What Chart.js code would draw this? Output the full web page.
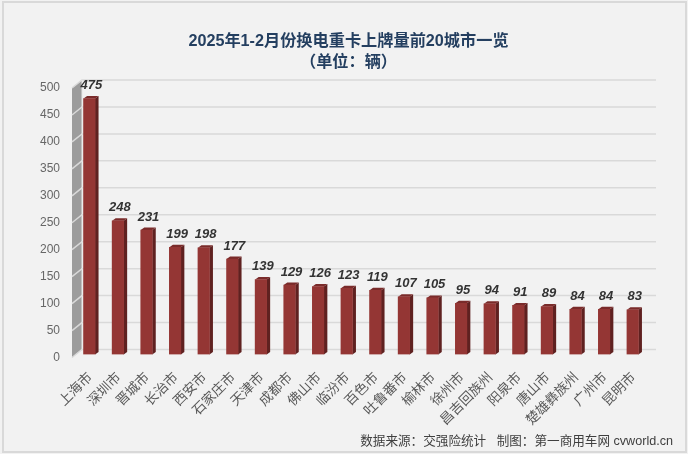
<!DOCTYPE html>
<html>
<head>
<meta charset="utf-8">
<style>
  html, body { margin: 0; padding: 0; background: #fff; }
  canvas { display: block; }
</style>
<script src="https://cdn.jsdelivr.net/npm/chart.js@4/dist/chart.umd.min.js"></script>
</head>
<body>
<canvas id="chart" width="688" height="454"></canvas>
<script>
// DATA
const cities = ["上海市", "深圳市", "晋城市", "长治市", "西安市", "石家庄市", "天津市", "成都市", "佛山市", "临汾市",
  "百色市", "吐鲁番市", "榆林市", "徐州市", "昌吉回族州", "阳泉市", "唐山市", "楚雄彝族州", "广州市", "昆明市"];
const sales = [475, 248, 231, 199, 198, 177, 139, 129, 126, 123, 119, 107, 105, 95, 94, 91, 89, 84, 84, 83];
const titleLines = ["2025年1-2月份换电重卡上牌量前20城市一览", "（单位：辆）"];
const sourceNote = "数据来源：交强险统计   制图：第一商用车网 cvworld.cn";

const FONT = '"Liberation Sans", "Noto Sans CJK SC", sans-serif';
const CJK = '"Noto Sans CJK SC", sans-serif';

// fake 3D depth of the back wall
const wallDx = 10;
const wallDy = 8;
const barLift = 3;
const barSide = 3.5;
const barTop = 2.5;

// panel + back wall + gridlines
const wallPlugin = {
  id: "wall",
  beforeDraw(chart) {
    const { ctx, scales: { y } } = chart;
    const left = 72;
    const right = 656;

    ctx.save();
    ctx.fillStyle = "#f2f2f2";
    ctx.fillRect(0, 0, 688, 454);
    ctx.strokeStyle = "#d9d9d9";
    ctx.lineWidth = 2;
    ctx.strokeRect(3, 2, 683, 450);

    const top = y.getPixelForValue(500);
    const bottom = y.getPixelForValue(0);

    ctx.fillStyle = "#9c9c9c";
    ctx.beginPath();
    ctx.moveTo(left, top);
    ctx.lineTo(left + wallDx, top - wallDy);
    ctx.lineTo(left + wallDx, bottom - wallDy);
    ctx.lineTo(left, bottom);
    ctx.closePath();
    ctx.fill();

    y.ticks.forEach((t) => {
      const py = y.getPixelForValue(t.value);
      ctx.strokeStyle = "#d9d9d9";
      ctx.lineWidth = 1.5;
      ctx.beginPath();
      ctx.moveTo(left, py);
      ctx.lineTo(left + wallDx, py - wallDy);
      ctx.lineTo(right, py - wallDy);
      ctx.stroke();
    });

    ctx.strokeStyle = "#e6e6e6";
    ctx.lineWidth = 1;
    ctx.beginPath();
    ctx.moveTo(left + wallDx, top - wallDy);
    ctx.lineTo(left + wallDx, bottom - wallDy);
    ctx.stroke();
    ctx.restore();
  }
};

// side and top faces of each bar, front face lifted a little off the axis
const barFacePlugin = {
  id: "barFaces",
  beforeDatasetDraw(chart, args) {
    const { ctx } = chart;
    ctx.save();
    ctx.translate(0, -barLift);
    args.meta.data.forEach((bar) => {
      const r = bar.x + bar.width / 2;
      const l = bar.x - bar.width / 2;
      ctx.fillStyle = "#5f2120";
      ctx.beginPath();
      ctx.moveTo(r, bar.y);
      ctx.lineTo(r + barSide, bar.y - barTop);
      ctx.lineTo(r + barSide, bar.base - barTop);
      ctx.lineTo(r, bar.base);
      ctx.closePath();
      ctx.fill();
      ctx.fillStyle = "#7a2b2a";
      ctx.beginPath();
      ctx.moveTo(l, bar.y);
      ctx.lineTo(l + barSide, bar.y - barTop);
      ctx.lineTo(r + barSide, bar.y - barTop);
      ctx.lineTo(r, bar.y);
      ctx.closePath();
      ctx.fill();
    });
  },
  afterDatasetDraw(chart) {
    chart.ctx.restore();
  }
};

// value labels and source line
const textPlugin = {
  id: "texts",
  afterDraw(chart) {
    const { ctx } = chart;
    ctx.save();
    ctx.font = "italic bold 13px " + FONT;
    ctx.fillStyle = "#333333";
    ctx.textAlign = "center";
    ctx.textBaseline = "middle";
    chart.getDatasetMeta(0).data.forEach((bar, i) => {
      ctx.fillText(sales[i], bar.x + 2, bar.y - 16);
    });
    ctx.font = "12.6px " + FONT;
    ctx.fillStyle = "#404040";
    ctx.textAlign = "right";
    ctx.fillText(sourceNote, 673, 442);
    ctx.restore();
  }
};

new Chart(document.getElementById("chart"), {
  type: "bar",
  data: {
    labels: cities,
    datasets: [{
      data: sales,
      backgroundColor: "#943634",
      barThickness: 11.5,
      borderWidth: 0
    }]
  },
  options: {
    responsive: false,
    animation: false,
    devicePixelRatio: 1,
    layout: { padding: { left: 9, right: 0, top: 0, bottom: 0 } },
    plugins: {
      legend: { display: false },
      tooltip: { enabled: false },
      title: {
        display: true,
        text: titleLines,
        color: "#243f60",
        font: { family: FONT, size: 16.2, weight: "bold", lineHeight: 1.3 },
        padding: { top: 31, bottom: 14.9 }
      }
    },
    scales: {
      x: {
        grid: { display: false },
        border: { display: false },
        afterFit: (s) => { s.height = 96.5; },
        ticks: {
          autoSkip: false,
          minRotation: 45,
          maxRotation: 45,
          padding: 3,
          color: "#595959",
          font: { family: CJK, size: 13.5 }
        }
      },
      y: {
        min: 0,
        max: 500,
        grid: { display: false },
        border: { display: false },
        afterFit: (s) => { s.width = 66; },
        ticks: {
          stepSize: 50,
          padding: 7,
          color: "#666666",
          font: { family: FONT, size: 12 }
        }
      },
      // empty axis, only reserves the room right of the bars
      spacer: {
        position: "right",
        grid: { display: false },
        border: { display: false },
        ticks: { display: false },
        afterFit: (s) => { s.width = 41; }
      }
    }
  },
  plugins: [wallPlugin, barFacePlugin, textPlugin]
});
</script>
</body>
</html>
